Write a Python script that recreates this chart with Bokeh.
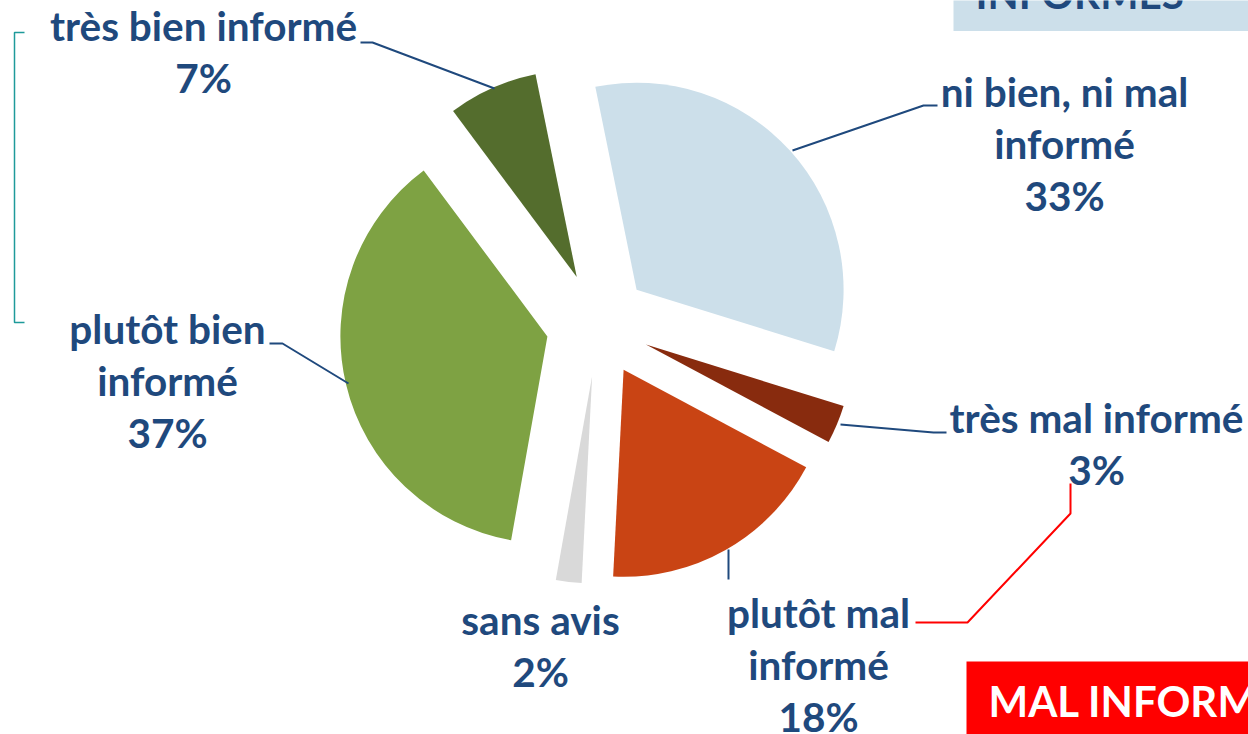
import math
from bokeh.plotting import figure
from bokeh.models import Range1d, ColumnDataSource
from bokeh.embed import file_html
from bokeh.resources import INLINE
from bokeh.core.properties import value

# ---------------- data ----------------
categories = ["ni bien, ni mal informé", "très mal informé", "plutôt mal informé",
              "sans avis", "plutôt bien informé", "très bien informé"]
values = [33, 3, 18, 2, 37, 7]
label_lines = [["ni bien, ni mal", "informé"], ["très mal informé"], ["plutôt mal", "informé"],
               ["sans avis"], ["plutôt bien", "informé"], ["très bien informé"]]
colors = ["#CCDFEA", "#882B0E", "#C94414", "#D9D9D9", "#7EA243", "#546D2D"]

# ---------------- layout (pixel coordinates of the page image) ----------------
W, H = 1248, 734
CX, CY = 597.5, 324.0      # pie centre
R = 207                    # radius
EXPLODE = 52               # explosion distance
START = -11.5              # first slice start, degrees clockwise from 12 o'clock
LINE_H = 52
TSHIFT = 15                # baseline correction for the text renderer
label_pos = [(1064, 106), (1096, 432), (818, 627), (540, 634), (167, 343), (203, 40)]
DARK_BLUE = "#1F497D"
FONT = "Lato"
FS = "40.5px"

def Y(y):
    return -y

p = figure(width=W, height=H, x_range=Range1d(0, W), y_range=Range1d(-H, 0),
           output_backend="svg", toolbar_location=None, min_border=0,
           x_axis_location=None, y_axis_location=None)
p.grid.visible = False
p.outline_line_color = None
p.background_fill_color = "white"
p.border_fill_color = "white"

# decorations: top-right light box, bottom-right red box
p.quad(left=[953], right=[1260], top=[Y(-10)], bottom=[Y(30.5)], fill_color="#CCDFEA", line_color=None)
p.text(x=[975], y=[Y(8 - TSHIFT)], text=["INFORMÉS"], text_font=value(FONT), text_font_style="bold",
       text_font_size=FS, text_color=DARK_BLUE, text_baseline="alphabetic", text_align="left")
p.quad(left=[966], right=[1260], top=[Y(661)], bottom=[Y(750)], fill_color="#FF0000", line_color=None)
p.text(x=[988], y=[Y(715 - TSHIFT)], text=["MAL INFORMÉS"], text_font=value(FONT), text_font_style="bold",
       text_font_size="42px", text_color="white", text_baseline="alphabetic", text_align="left")

# teal bracket on the left
p.line(x=[24, 14, 14, 24], y=[Y(32), Y(32), Y(322), Y(322)], line_color="#1E9A9A", line_width=1.5)

# ---------------- pie ----------------
total = float(sum(values))
xs, ys, sa, ea = [], [], [], []
acc = START
for v in values:
    t1 = acc
    t2 = acc + v / total * 360.0
    acc = t2
    mid = math.radians((t1 + t2) / 2)
    xs.append(CX + EXPLODE * math.sin(mid))
    ys.append(Y(CY - EXPLODE * math.cos(mid)))
    sa.append(math.radians(90 - t2))
    ea.append(math.radians(90 - t1))

src = ColumnDataSource(dict(x=xs, y=ys, start=sa, end=ea, color=colors, cat=categories))
p.wedge(x="x", y="y", radius=R, start_angle="start", end_angle="end",
        fill_color="color", line_color=None, source=src)

# leader lines
leaders = [
    [(792, 150), (923, 105), (937, 105)],
    [(840, 424), (933, 432), (946, 432)],
    [(728, 549), (728, 579)],
    [(348, 383), (282, 343), (269, 343)],
    [(494, 88), (372, 42), (360, 42)],
]
p.multi_line(xs=[[pt[0] for pt in l] for l in leaders], ys=[[Y(pt[1]) for pt in l] for l in leaders],
             line_color=DARK_BLUE, line_width=2)

# red connector
p.line(x=[1070, 1070, 967, 915], y=[Y(483), Y(513), Y(622), Y(622)], line_color="#FF0000", line_width=2)

# labels
tx, ty, tt = [], [], []
for lines, v, (lx, ly) in zip(label_lines, values, label_pos):
    for i, s in enumerate(lines + [f"{v}%"]):
        tx.append(lx)
        ty.append(Y(ly + i * LINE_H - TSHIFT))
        tt.append(s)
p.text(x=tx, y=ty, text=tt, text_font=value(FONT), text_font_style="bold", text_font_size=FS,
       text_color=DARK_BLUE, text_align="center", text_baseline="alphabetic")

open("out.html", "w").write(file_html(p, INLINE))
